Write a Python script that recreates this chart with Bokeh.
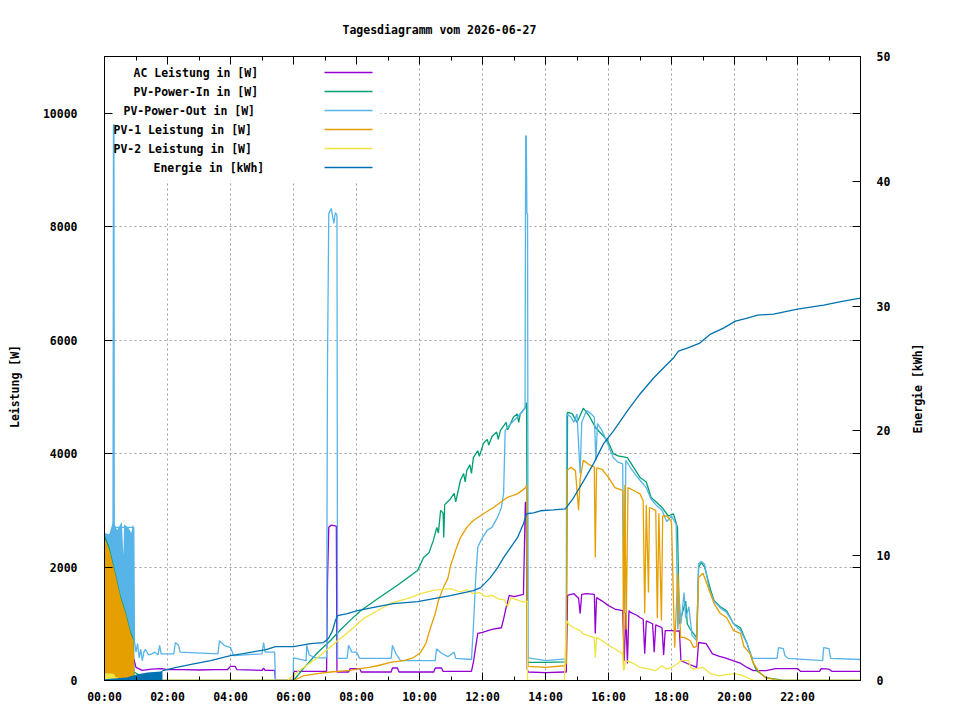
import math
from bokeh.plotting import figure
from bokeh.layouts import row
from bokeh.models import Range1d, LinearAxis, FixedTicker, Label, BoxAnnotation
from bokeh.embed import file_html
from bokeh.resources import INLINE

# ---------------- data (time in hours, power in W, energy in kWh) ----------------
hour_ticks = [0, 2, 4, 6, 8, 10, 12, 14, 16, 18, 20, 22]
hour_labels = ["00:00", "02:00", "04:00", "06:00", "08:00", "10:00",
               "12:00", "14:00", "16:00", "18:00", "20:00", "22:00"]
watt_ticks = [0, 2000, 4000, 6000, 8000, 10000]
kwh_ticks = [0, 10, 20, 30, 40, 50]

ac_t = [0.93, 1.0, 1.2, 1.5, 1.8, 2.0, 2.5, 3.0, 3.5, 3.9, 4.0, 4.15, 4.2, 5.0, 5.05, 5.1, 5.4, 5.43,
        6.0, 6.01, 7.05, 7.08, 7.12, 7.2, 7.36, 7.38, 7.75, 7.8, 8.1, 8.15, 9.1, 9.14, 9.3, 9.35,
        10.45, 10.5, 10.7, 10.75, 11.65, 11.72, 11.78, 11.85, 12.0, 12.3, 12.6, 12.68, 12.75, 12.85,
        13.0, 13.3, 13.36, 13.39, 13.42, 13.45, 14.0, 14.6, 14.66, 14.7, 14.9, 15.05, 15.1, 15.15,
        15.3, 15.55, 15.58, 15.62, 15.8, 16.0, 16.2, 16.45, 16.5, 16.55, 16.6, 16.65, 16.7, 16.9,
        17.0, 17.1, 17.15, 17.2, 17.4, 17.45, 17.5, 17.7, 17.75, 17.8, 18.0, 18.2, 18.25, 18.3,
        18.5, 18.8, 18.86, 19.1, 19.3, 19.5, 19.7, 19.95, 20.2, 20.4, 20.6, 21.0, 21.3, 22.0,
        22.1, 22.7, 22.75, 23.0, 23.1, 24.0]
ac_w = [380, 230, 180, 200, 210, 190, 190, 185, 190, 190, 250, 250, 190, 180, 220, 180, 180, 0,
        0, 160, 160, 1760, 2700, 2740, 2720, 150, 150, 210, 210, 150, 150, 220, 220, 150,
        150, 220, 220, 160, 160, 350, 580, 830, 850, 900, 930, 1110, 1290, 1500,
        1480, 1520, 3140, 3140, 200, 150, 140, 150, 150, 1500, 1530, 1450, 1180, 1520,
        1530, 1520, 830, 1460, 1400, 1320, 1260, 1230, 350, 1200, 300, 1230, 1200, 1150,
        1110, 1080, 470, 1050, 1000, 500, 980, 930, 450, 880, 880, 870, 880, 350,
        300, 230, 670, 650, 470, 430, 400, 350, 300, 230, 175, 175, 210, 210,
        160, 160, 210, 200, 160, 160]

pvin_t = [0.93, 1.1, 1.15, 6.0, 6.3, 6.76, 7.17, 7.5, 7.8, 8.13, 8.67, 9.3, 9.94, 10.13, 10.3, 10.44,
          10.55, 10.6, 10.67, 10.75, 10.77, 10.8, 10.98, 11.1, 11.15, 11.3, 11.4, 11.45, 11.5,
          11.6, 11.65, 11.71, 11.85, 11.9, 12.03, 12.15, 12.2, 12.3, 12.45, 12.5, 12.57, 12.75,
          12.8, 12.98, 13.1, 13.15, 13.2, 13.37, 13.4,
          13.43, 14.0, 14.66, 14.7, 14.85, 15.0, 15.2, 15.4, 15.6, 15.97, 16.15, 16.3, 16.6,
          17.0, 17.2, 17.35, 17.7, 17.9, 18.06, 18.19, 18.25, 18.35, 18.45, 18.5, 18.6, 18.8,
          18.86, 18.95, 19.05, 19.24, 19.35, 19.55, 19.75, 19.97, 20.19, 20.4, 20.57, 20.7,
          21.0, 21.56, 24.0]
pvin_w = [150, 100, 0, 0, 200, 490, 700, 900, 1060, 1230, 1440, 1680, 1940, 2170, 2250, 2470,
          2700, 2600, 3000, 2950, 2520, 3100, 3200, 3300, 3150, 3530, 3650, 3500, 3700,
          3800, 3650, 3930, 4050, 3950, 4180, 4250, 4150, 4300, 4380, 4250, 4410, 4550,
          4420, 4640, 4700, 4550, 4700, 4820, 4900,
          320, 320, 330, 4730, 4700, 4550, 4800, 4650, 4450, 4230, 4000, 3960, 3930,
          3580, 3500, 3230, 3050, 2900, 2940, 2700, 1000, 1200, 1400, 1000, 900, 750,
          2000, 2080, 2000, 1600, 1410, 1300, 1230, 1000, 930, 650, 350, 175,
          50, 0, 0]

pvout_t = [0.27, 0.285, 0.3, 0.31, 0.93, 0.95, 1.0, 1.05, 1.1, 1.15, 1.2, 1.25, 1.3, 1.4, 1.5, 1.6,
           1.7, 1.75, 1.8, 2.2, 2.25, 2.35, 2.4, 3.6, 3.65, 3.8, 4.0, 4.1, 5.0, 5.05, 5.1, 5.4,
           5.43, 5.99, 6.0, 6.4, 6.42, 6.5, 6.7, 7.05, 7.08, 7.12, 7.2, 7.28, 7.33, 7.38, 7.4,
           7.7, 7.75, 7.85, 8.0, 8.1, 9.1, 9.14, 9.25, 9.4, 10.5, 10.54, 10.7, 10.9, 11.1, 11.15,
           11.65, 11.71, 11.78, 11.85, 11.95, 12.15, 12.3, 12.48, 12.6, 12.67, 12.72, 12.9, 13.1,
           13.3, 13.35, 13.37, 13.39, 13.41, 13.43, 13.45, 14.0, 14.66, 14.67, 14.8, 14.9, 15.0,
           15.1, 15.15, 15.3, 15.45, 15.55, 15.6, 15.65, 15.8, 15.97, 16.15, 16.3, 16.45, 16.5,
           16.55, 16.7, 16.9, 17.0, 17.2, 17.35, 17.5, 17.7, 17.85, 18.0, 18.15, 18.2, 18.25,
           18.3, 18.4, 18.45, 18.55, 18.65, 18.8, 18.86, 18.95, 19.05, 19.2, 19.35, 19.55, 19.75,
           19.97, 20.19, 20.4, 20.57, 21.35, 21.4, 21.55, 21.6, 21.7, 22.8, 22.83, 23.0, 23.05, 24.0]
pvout_w = [2700, 9800, 9800, 2700, 2700, 700, 500, 650, 400, 550, 350, 500, 550, 450, 470, 500,
           450, 620, 470, 470, 670, 620, 500, 470, 700, 620, 580, 440, 470, 670, 500, 500,
           0, 0, 400, 350, 620, 450, 400, 400, 5640, 8230, 8320, 8060, 8250, 8200, 390,
           390, 620, 500, 500, 390, 390, 620, 470, 350, 350, 560, 480, 420, 500, 390,
           370, 930, 1760, 2350, 2470, 2650, 2700, 2880, 3050, 3300, 4410, 4530, 4640,
           4760, 4800, 9600, 9600, 8230, 8230, 400, 350, 380, 4700, 4650, 4550, 4700,
           3650, 4550, 4760, 4700, 4640, 3880, 4530, 4400, 4180, 3930, 3850, 3820, 1180,
           3880, 3750, 3600, 3530, 3400, 3200, 3100, 3000, 2800, 2900, 2750, 900, 1400,
           1000, 1550, 1100, 1300, 800, 700, 2060, 2100, 2050, 1600, 1400, 1280, 1200,
           1000, 880, 650, 390, 390, 580, 560, 440, 390, 350, 580, 560, 390, 370]

pv1_t = [0.95, 6.0, 6.3, 6.76, 7.17, 7.8, 8.0, 8.4, 8.67, 9.08, 9.5, 9.8, 10.03, 10.2, 10.35, 10.5,
         10.6, 10.76, 10.9, 11.0, 11.15, 11.3, 11.5, 11.71, 12.03, 12.35, 12.79, 13.11, 13.37,
         13.4, 13.42, 13.45, 14.0, 14.6, 14.66, 14.68, 14.8, 14.95, 15.05, 15.1, 15.2, 15.4,
         15.55, 15.58, 15.62, 15.8, 16.0, 16.2, 16.45, 16.48, 16.52, 16.56, 16.62, 16.8, 17.0,
         17.1, 17.15, 17.2, 17.27, 17.3, 17.5, 17.55, 17.6, 17.68, 17.72, 17.85, 18.0, 18.1,
         18.2, 18.29, 18.4, 18.6, 18.7, 18.8, 18.86, 19.0, 19.24, 19.35, 19.55, 19.75, 19.97,
         20.19, 20.3, 20.5, 20.6, 20.8, 21.0, 21.4, 24.0]
pv1_w = [0, 0, 80, 120, 150, 180, 200, 230, 260, 320, 350, 400, 490, 650, 930, 1180,
         1410, 1640, 1800, 2050, 2300, 2520, 2700, 2820, 2940, 3050, 3230, 3290, 3400,
         3450, 700, 250, 230, 260, 300, 3700, 3760, 3700, 3000, 3550, 3880, 3800,
         3760, 2170, 3750, 3720, 3580, 3400, 3350, 200, 3450, 900, 3400, 3350, 3290,
         3170, 1180, 3100, 1550, 3050, 3000, 1100, 2950, 1060, 2900, 2900, 2800, 580,
         1890, 760, 760, 700, 580, 600, 1820, 1890, 1530, 1360, 1180, 1110, 880,
         830, 600, 470, 300, 140, 50, 0, 0]

pv2_t = [0.46, 5.8, 6.2, 6.76, 7.1, 7.4, 7.8, 8.22, 8.67, 9.08, 9.71, 10.03, 10.44, 10.98, 11.3,
         11.5, 11.71, 11.9, 12.1, 12.3, 12.5, 12.7, 12.8, 12.9, 13.1, 13.3, 13.42, 13.43, 14.6,
         14.66, 14.75, 14.9, 15.1, 15.2, 15.4, 15.55, 15.58, 15.62, 15.8, 16.0, 16.2, 16.45,
         16.48, 16.55, 16.8, 17.0, 17.3, 17.5, 17.7, 17.85, 18.0, 18.2, 18.3, 18.55, 18.6,
         18.7, 19.0, 19.24, 19.5, 19.97, 20.2, 20.5, 20.6, 24.0]
pv2_w = [0, 0, 180, 400, 560, 700, 880, 1090, 1230, 1360, 1460, 1530, 1590, 1620, 1560,
         1600, 1530, 1550, 1480, 1500, 1440, 1420, 1300, 1460, 1420, 1380, 1400, 0, 0,
         1060, 980, 930, 880, 820, 780, 760, 400, 760, 700, 620, 560, 470,
         175, 350, 300, 230, 200, 175, 260, 200, 230, 300, 350, 350, 230,
         200, 230, 120, 80, 120, 100, 30, 0, 0]

energy_t = [1.84, 2.25, 2.83, 3.37, 4.0, 4.4, 4.95, 5.1, 5.43, 6.0, 6.54, 6.95, 7.11, 7.24, 7.33,
            7.4, 7.71, 8.03, 8.67, 9.17, 9.94, 10.98, 11.71, 11.94, 12.25, 12.48, 12.67, 12.89,
            13.11, 13.3, 13.4, 13.62, 13.84, 14.25, 14.63, 14.89, 15.21, 15.52, 15.84, 16.16,
            16.6, 17.0, 17.43, 17.87, 18.06, 18.22, 18.5, 18.9, 19.24, 19.65, 20.03, 20.41,
            20.73, 21.24, 22.0, 22.83, 23.46, 24.0]
energy_kwh = [0.8, 1.04, 1.33, 1.6, 2.0, 2.16, 2.4, 2.45, 2.72, 2.72, 2.96, 3.04, 3.36, 4.0, 4.8,
              5.2, 5.36, 5.6, 5.92, 6.16, 6.32, 6.8, 7.2, 7.44, 8.24, 9.04, 9.84, 10.64,
              11.44, 12.56, 13.36, 13.44, 13.6, 13.68, 13.76, 14.64, 16.0, 17.36, 18.96, 20.0,
              21.6, 22.96, 24.24, 25.36, 25.84, 26.4, 26.64, 27.04, 27.76, 28.24, 28.8, 29.04,
              29.28, 29.36, 29.76, 30.08, 30.4, 30.64]

# densely oscillating start-of-day bursts (envelopes)
burst_out_t = [0.0, 0.15, 0.28, 0.4, 0.55, 0.6, 0.62, 0.75, 0.85, 0.9, 0.93, 0.95]
burst_out_w = [2600, 2580, 2820, 2650, 2800, 2200, 2750, 2700, 2600, 2750, 2700, 700]
burst_in_t = [0.0, 0.16, 0.35, 0.51, 0.67, 0.83, 0.92, 0.94, 0.95]
burst_in_w = [2580, 2350, 1900, 1500, 1220, 870, 740, 450, 150]
burst_pv1_t = [0.0, 0.16, 0.35, 0.51, 0.67, 0.83, 0.92, 0.94, 0.95]
burst_pv1_w = [2520, 2290, 1850, 1460, 1180, 830, 700, 400, 0]
burst_pv2_t = [0.0, 0.3, 0.35, 0.45, 0.46]
burst_pv2_w = [130, 120, 60, 50, 0]
burst_energy_t = [0.0, 0.7, 1.05, 1.37, 1.78, 1.84]
burst_energy_kwh = [0.1, 0.25, 0.5, 0.65, 0.72, 0.8]

names = ["AC Leistung in [W]", "PV-Power-In in [W]", "PV-Power-Out in [W]",
         "PV-1 Leistung in [W]", "PV-2 Leistung in [W]", "Energie in [kWh]"]
colors = ["#9400d3", "#009e73", "#56b4e9", "#e69f00", "#f0e442", "#0072b2"]

# ---------------- layout constants ----------------
FONT = "DejaVu Sans Mono"
FS = "11.5px"
H = 712          # canvas height of every part
LEFT_W = 30      # strip holding the left axis title
RIGHT_W = 52     # strip holding the right axis title


def text_strip(width, txt, cx, cy):
    s = figure(width=width, height=H, x_range=Range1d(0, 1), y_range=Range1d(0, 1),
               output_backend="svg", toolbar_location=None, title=None,
               min_border=0, x_axis_location=None, y_axis_location=None)
    s.outline_line_color = None
    s.background_fill_color = "white"
    s.border_fill_color = "white"
    for g in s.grid:
        g.visible = False
    s.add_layout(Label(x=cx, y=cy, x_units="screen", y_units="screen", text=txt,
                       text_font=FONT, text_font_style="bold", text_font_size=FS,
                       text_color="black", text_align="center", text_baseline="middle",
                       angle=math.pi / 2))
    return s


# ---------------- main figure ----------------
p = figure(frame_width=756, frame_height=624, x_range=Range1d(0, 24), y_range=Range1d(0, 11000),
           output_backend="svg", toolbar_location=None, title="Tagesdiagramm vom 2026-06-27",
           min_border_left=104 - LEFT_W, min_border_right=40, min_border_top=56, min_border_bottom=32,
           x_axis_location=None, y_axis_location=None)
p.extra_y_ranges = {"kwh": Range1d(0, 50)}
p.background_fill_color = "white"
p.border_fill_color = "white"
p.outline_line_color = "black"
p.outline_line_width = 1

p.title.align = "left"
p.title.offset = 238
p.title.text_font = FONT
p.title.text_font_style = "bold"
p.title.text_font_size = FS
p.title.text_color = "black"
p.title.standoff = 40


def style_axis(ax, show_labels=True):
    ax.axis_line_color = "black"
    ax.major_tick_line_color = "black"
    ax.minor_tick_line_color = "black"
    ax.major_tick_in = 8
    ax.major_tick_out = 0
    ax.minor_tick_in = 4
    ax.minor_tick_out = 0
    ax.major_label_text_font = FONT
    ax.major_label_text_font_style = "bold"
    ax.major_label_text_font_size = FS if show_labels else "0px"
    ax.major_label_text_color = "black"


minor_hours = [h + 1 for h in hour_ticks]
xb = LinearAxis(ticker=FixedTicker(ticks=hour_ticks, minor_ticks=minor_hours),
                major_label_overrides={t: l for t, l in zip(hour_ticks, hour_labels)})
style_axis(xb)
xb.major_label_standoff = 9
p.add_layout(xb, "below")

xt = LinearAxis(ticker=FixedTicker(ticks=hour_ticks, minor_ticks=minor_hours),
                major_label_overrides={t: "" for t in hour_ticks})
style_axis(xt, False)
xt.major_label_standoff = 0
p.add_layout(xt, "above")

yl = LinearAxis(ticker=FixedTicker(ticks=watt_ticks, minor_ticks=[]))
style_axis(yl)
yl.major_label_standoff = 27
p.add_layout(yl, "left")

mirror = [w * 50.0 / 11000.0 for w in watt_ticks[1:]]
yr = LinearAxis(y_range_name="kwh", ticker=FixedTicker(ticks=kwh_ticks, minor_ticks=mirror))
style_axis(yr)
yr.minor_tick_in = 8
yr.major_label_standoff = 16
p.add_layout(yr, "right")

p.xgrid.ticker = FixedTicker(ticks=hour_ticks[1:])
p.ygrid.ticker = FixedTicker(ticks=watt_ticks[1:])
for g in (p.xgrid, p.ygrid):
    g.grid_line_color = "#a0a0a0"
    g.grid_line_dash = "2 3"
    g.grid_line_width = 1

# white key box hides the grid behind the key
key_bg = BoxAnnotation(left=0, right=276, bottom=500, top=624,
                       left_units="screen", right_units="screen",
                       bottom_units="screen", top_units="screen",
                       fill_color="white", fill_alpha=1, line_alpha=0, level="underlay")
p.add_layout(key_bg)

# ---------------- data drawing ----------------
LW = 1.3
p.varea(x=burst_out_t, y1=0, y2=burst_out_w, fill_color=colors[2])
p.varea(x=burst_in_t, y1=0, y2=burst_in_w, fill_color=colors[1])
p.line(ac_t, ac_w, line_color=colors[0], line_width=LW)
p.line(pvin_t, pvin_w, line_color=colors[1], line_width=LW)
p.line(pvout_t, pvout_w, line_color=colors[2], line_width=LW)
p.varea(x=burst_pv1_t, y1=0, y2=burst_pv1_w, fill_color=colors[3])
p.line(pv1_t, pv1_w, line_color=colors[3], line_width=LW)
p.varea(x=burst_pv2_t, y1=0, y2=burst_pv2_w, fill_color=colors[4])
p.line(pv2_t, pv2_w, line_color=colors[4], line_width=LW)
p.varea(x=burst_energy_t, y1=0, y2=burst_energy_kwh, fill_color=colors[5], y_range_name="kwh")
p.line(energy_t, energy_kwh, line_color=colors[5], line_width=LW, y_range_name="kwh")

# ---------------- key (screen units relative to the frame) ----------------
key_x = [29, 29, 19, 9, 9, 49]
key_y = [608, 589, 570, 551, 532, 513]
for name, col, kx, ky in zip(names, colors, key_x, key_y):
    p.add_layout(Label(x=kx, y=ky, x_units="screen", y_units="screen", text=name,
                       text_font=FONT, text_font_style="bold", text_font_size=FS,
                       text_color="black", text_align="left", text_baseline="middle"))
    p.add_layout(BoxAnnotation(left=220, right=268, bottom=ky - 0.7, top=ky + 0.7,
                               left_units="screen", right_units="screen",
                               bottom_units="screen", top_units="screen",
                               fill_color=col, fill_alpha=1, line_alpha=0))

# ---------------- axis titles in narrow side strips ----------------
left_strip = text_strip(LEFT_W, "Leistung [W]", 14, H - 388 - 30)
right_strip = text_strip(RIGHT_W, "Energie [kWh]", 17, H - 390 - 30)

layout = row(left_strip, p, right_strip, spacing=0)
open("out.html", "w").write(file_html(layout, INLINE))
